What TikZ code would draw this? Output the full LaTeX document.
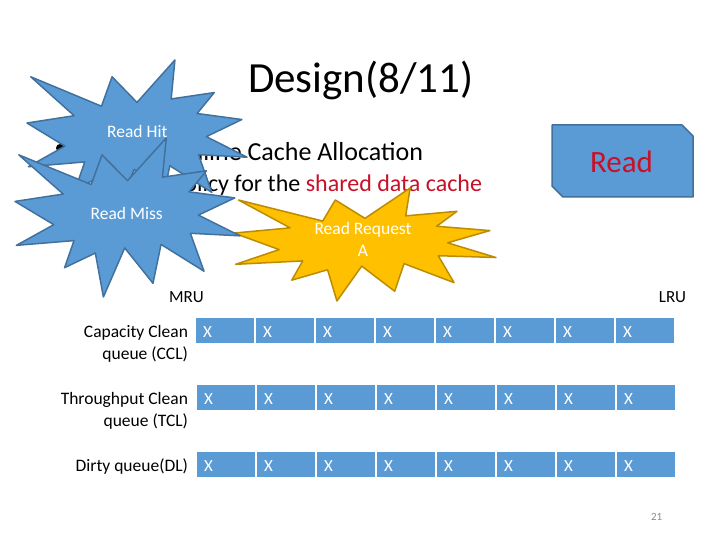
\documentclass[tikz,border=0pt]{standalone}
\usepackage{fontspec}
\setmainfont{Carlito}
\definecolor{accblue}{HTML}{5B9BD5}
\definecolor{accline}{HTML}{41719C}
\definecolor{accgold}{HTML}{FFC000}
\definecolor{goldline}{HTML}{BC8C00}
\definecolor{redtext}{RGB}{200,16,40}
\definecolor{pagegray}{HTML}{898989}
\newcommand\sealshape{(108,58) -- (145.22,0) -- (141.55,53.25) -- (183.80,44.57) -- (167.02,73.15) -- (210.97,81.37) -- (176.07,104.75) -- (216,132.90) -- (168.37,129.42) -- (181.45,180.95) -- (140.20,144.57) -- (132.47,197.37) -- (105.32,149.35) -- (84.85,216) -- (77.15,156.27) -- (47.62,176.17) -- (56.67,139.37) -- (1.35,145.87) -- (37.22,117.75) -- (0,86.15) -- (46.27,76.17) -- (3.70,22.95) -- (73.12,63.20) -- (83.52,22.95) -- cycle}
\begin{document}
\begin{tikzpicture}[x=1pt,y=-1pt,
  txt/.style={inner sep=0pt, outer sep=0pt},
  lbl/.style={txt, anchor=base east, font=\fontsize{17.5}{21}\selectfont},
  cellbox/.style={rectangle, fill=accblue, minimum width=58pt, minimum height=25pt, inner sep=0pt, outer sep=0pt},
  xmark/.style={txt, anchor=base west, text=white, font=\fontsize{17}{20}\selectfont},
  bluestar/.style={fill=accblue, draw=accline, line width=1.5pt, line join=round},
  goldstar/.style={fill=accgold, draw=goldline, line width=1.5pt, line join=round},
  startext/.style={txt, anchor=base, text=white, font=\fontsize{17.5}{21}\selectfont},
  readbox/.style={fill=accblue, draw=accline, line width=1.5pt, line join=round}]
\useasboundingbox (0,0) rectangle (720,540);
\fill[white] (0,0) rectangle (720,540);

% title and bullet text
\node[txt, anchor=base west, font=\fontsize{43}{50}\selectfont] (title) at (248,93) {Design(8/11)};
\node[circle, fill=black, inner sep=0pt, minimum size=8pt] (bullet) at (60,148) {};
\node[txt, anchor=base east, font=\fontsize{26}{31}\selectfont] (line1) at (423,161) {Online Cache Allocation};
\node[txt, anchor=base east, font=\fontsize{24}{29}\selectfont] (line2) at (482,192) {policy for the \textcolor{redtext}{shared data cache}};

% MRU / LRU
\node[txt, anchor=base, font=\fontsize{17}{20}\selectfont] (mru) at (186.5,302) {MRU};
\node[txt, anchor=base, font=\fontsize{17}{20}\selectfont] (lru) at (672.5,302) {LRU};

% queue labels
\node[lbl] (ccla) at (188,337.3) {Capacity Clean};
\node[lbl] (cclb) at (188,359.3) {queue (CCL)};
\node[lbl] (tcla) at (188,404) {Throughput Clean};
\node[lbl] (tclb) at (188,426) {queue (TCL)};
\node[lbl] (dla) at (188,471.7) {Dirty queue(DL)};

% queue cells
\foreach \r/\ry/\rx/\rb in {1/318/196/337.3, 2/385/197/404, 3/452/197/471.7}{
  \foreach \c in {0,...,7}{
    \node[cellbox] (cell\r\c) at (\rx+60*\c+29, \ry+12.5) {};
    \node[xmark] (mark\r\c) at (\rx+60*\c+7, \rb) {X};
  }
}

% Read box
\draw[readbox] (552,125) -- (682,125) -- (693,136) -- (693,197) -- (563,197) -- (552,186) -- cycle;
\node[txt, anchor=base, text=redtext, font=\fontsize{31}{36}\selectfont] (read) at (621.5,172.7) {Read};

% Read Request star
\begin{scope}[shift={(234,188)}, xscale=262/216, yscale=113/216]
  \draw[goldstar] \sealshape;
\end{scope}
\node[startext] (reqa) at (363,235) {Read Request};
\node[startext] (reqb) at (363,256.7) {A};

% Read Hit star
\begin{scope}[shift={(27,60)}, xscale=220/216, yscale=158/216]
  \draw[bluestar] \sealshape;
\end{scope}
\node[startext] (hit) at (137.3,138) {Read Hit};

% Read Miss star
\begin{scope}[shift={(15,138)}, xscale=225/216, yscale=159/216]
  \draw[bluestar] \sealshape;
\end{scope}
\node[startext] (miss) at (126.7,220) {Read Miss};

% page number
\node[txt, anchor=base, text=pagegray, font=\fontsize{11}{13}\selectfont] (pg) at (656.7,520) {21};
\end{tikzpicture}
\end{document}
